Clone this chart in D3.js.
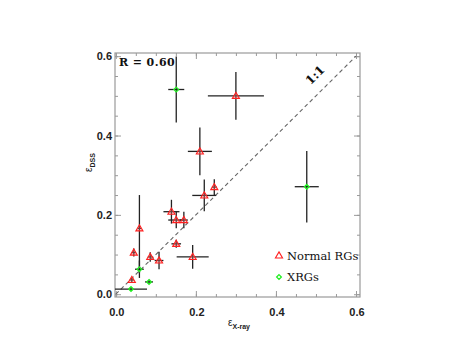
<!DOCTYPE html>
<html>
<head>
<meta charset="utf-8">
<script src="https://cdn.jsdelivr.net/npm/d3@7"></script>
<style>
  body { margin: 0; background: #fff; }
  svg { display: block; }
</style>
</head>
<body>
<div id="chart"></div>
<script>
// Normal RGs
const normX    = [0.30, 0.21, 0.246, 0.221, 0.139, 0.151, 0.17, 0.151, 0.192, 0.108, 0.086, 0.059, 0.045, 0.04];
const normY    = [0.50, 0.36, 0.27, 0.249, 0.208, 0.187, 0.187, 0.127, 0.094, 0.085, 0.094, 0.166, 0.105, 0.036];
const normXErr = [0.07, 0.03, 0.006, 0.03, 0.02, 0.02, 0.01, 0.012, 0.04, 0.011, 0.006, 0.004, 0.005, 0.005];
const normYLo  = [0.06, 0.06, 0.02, 0.04, 0.03, 0.021, 0.021, 0.01, 0.03, 0.022, 0.012, 0.113, 0.01, 0.006];
const normYHi  = [0.06, 0.06, 0.02, 0.04, 0.03, 0.021, 0.021, 0.01, 0.03, 0.022, 0.012, 0.084, 0.01, 0.006];
// XRGs
const xrgX    = [0.151, 0.477, 0.059, 0.083, 0.038];
const xrgY    = [0.516, 0.271, 0.063, 0.031, 0.013];
const xrgXErr = [0.02, 0.03, 0.011, 0.01, 0.04];
const xrgYLo  = [0.083, 0.09, 0.022, 0.004, 0.004];
const xrgYHi  = [0.083, 0.09, 0.022, 0.004, 0.004];

const xTicks = [0.0, 0.2, 0.4, 0.6];
const yTicks = [0.0, 0.2, 0.4, 0.6];
const minorStep = 0.05;

const W = 475, H = 350;
const frame = { left: 115, right: 360, top: 53, bottom: 297 };
const serif = 'DejaVu Serif, Liberation Serif, serif';

const svg = d3.select('#chart').append('svg')
  .attr('width', W).attr('height', H)
  .attr('font-family', 'Liberation Sans, Arial, sans-serif');

const x = d3.scaleLinear().domain([-0.002, 0.61]).range([frame.left, frame.right]);
const y = d3.scaleLinear().domain([-0.007, 0.608]).range([frame.bottom, frame.top]);

const axisColor = '#9a9a9a';
const minor = d3.range(0, 0.6001, minorStep);

// axes with IDL-style ticks on all four sides
function tickAxis(axisFn, scale, values, size) {
  return axisFn(scale).tickValues(values).tickSize(size).tickFormat('');
}
const gB = svg.append('g').attr('transform', `translate(0,${frame.bottom})`);
gB.call(tickAxis(d3.axisTop, x, minor, 3));
gB.append('g').call(tickAxis(d3.axisTop, x, xTicks, 6));
const gT = svg.append('g').attr('transform', `translate(0,${frame.top})`);
gT.call(tickAxis(d3.axisBottom, x, minor, 3));
gT.append('g').call(tickAxis(d3.axisBottom, x, xTicks, 6));
const gL = svg.append('g').attr('transform', `translate(${frame.left},0)`);
gL.call(tickAxis(d3.axisRight, y, minor, 3));
gL.append('g').call(tickAxis(d3.axisRight, y, yTicks, 6));
const gR = svg.append('g').attr('transform', `translate(${frame.right},0)`);
gR.call(tickAxis(d3.axisLeft, y, minor, 3));
gR.append('g').call(tickAxis(d3.axisLeft, y, yTicks, 6));
svg.selectAll('.domain').remove();
svg.selectAll('.tick line').attr('stroke', axisColor);

svg.append('rect')
  .attr('x', frame.left).attr('y', frame.top)
  .attr('width', frame.right - frame.left).attr('height', frame.bottom - frame.top)
  .attr('fill', 'none').attr('stroke', axisColor).attr('stroke-width', 1.2);

// tick labels
svg.append('g').selectAll('text').data(xTicks).enter().append('text')
  .attr('x', d => x(d) + 1).attr('y', frame.bottom + 19)
  .attr('text-anchor', 'middle').attr('font-size', 11).attr('font-weight', 'bold')
  .attr('fill', '#222').text(d => d3.format('.1f')(d));
svg.append('g').selectAll('text').data(yTicks).enter().append('text')
  .attr('x', frame.left - 3).attr('y', d => y(d) + 4)
  .attr('text-anchor', 'end').attr('font-size', 11).attr('font-weight', 'bold')
  .attr('fill', '#222').text(d => d3.format('.1f')(d));

// axis titles
const xl = svg.append('text').attr('x', 228).attr('y', 326)
  .attr('font-size', 10).attr('fill', '#222');
xl.append('tspan').text('ε');
xl.append('tspan').attr('dy', 3).attr('font-size', 7).attr('font-weight', 'bold').text('X-ray');
const yl = svg.append('text').attr('transform', 'translate(92,172) rotate(-90)')
  .attr('font-size', 10).attr('fill', '#222');
yl.append('tspan').text('ε');
yl.append('tspan').attr('dy', 3).attr('font-size', 7).attr('font-weight', 'bold').text('DSS');

// 1:1 line
svg.append('line')
  .attr('x1', x(0)).attr('y1', y(0)).attr('x2', x(0.6)).attr('y2', y(0.6))
  .attr('stroke', '#666').attr('stroke-width', 1.1).attr('stroke-dasharray', '4,3');
svg.append('text')
  .attr('transform', `translate(${x(0.505)},${y(0.545)}) rotate(-45)`)
  .attr('text-anchor', 'middle')
  .attr('font-family', serif)
  .attr('font-size', 12).attr('font-weight', 'bold').attr('fill', '#111').text('1:1');

svg.append('text').attr('x', frame.left + 4).attr('y', frame.top + 13)
  .attr('font-family', serif)
  .attr('font-size', 11).attr('font-weight', 'bold').attr('fill', '#111')
  .attr('letter-spacing', 0.4)
  .text('R = 0.60');

// build point records
const normPts = normX.map((v, i) => ({ x: v, y: normY[i], xe: normXErr[i], lo: normYLo[i], hi: normYHi[i] }));
const xrgPts = xrgX.map((v, i) => ({ x: v, y: xrgY[i], xe: xrgXErr[i], lo: xrgYLo[i], hi: xrgYHi[i] }));
const allPts = normPts.concat(xrgPts);

const errG = svg.append('g').attr('stroke', '#222').attr('stroke-width', 1.3);
errG.selectAll('line.h').data(allPts).enter().append('line').attr('class', 'h')
  .attr('x1', d => x(d.x - d.xe)).attr('x2', d => x(d.x + d.xe))
  .attr('y1', d => y(d.y)).attr('y2', d => y(d.y));
errG.selectAll('line.v').data(allPts).enter().append('line').attr('class', 'v')
  .attr('x1', d => x(d.x)).attr('x2', d => x(d.x))
  .attr('y1', d => y(d.y - d.lo)).attr('y2', d => y(d.y + d.hi));

const tri = d3.symbol().type(d3.symbolTriangle).size(22);
const dia = d3.symbol().type(d3.symbolDiamond2 || d3.symbolDiamond).size(14);
svg.append('g').selectAll('path').data(normPts).enter().append('path')
  .attr('d', tri).attr('transform', d => `translate(${x(d.x)},${y(d.y) + 0.5})`)
  .attr('fill', 'rgba(255,120,120,0.35)').attr('stroke', '#ff2020').attr('stroke-width', 1.1);
svg.append('g').selectAll('path').data(xrgPts).enter().append('path')
  .attr('d', dia).attr('transform', d => `translate(${x(d.x)},${y(d.y)})`)
  .attr('fill', 'none').attr('stroke', '#22ee22').attr('stroke-width', 1.3);

// legend
const legend = svg.append('g').attr('font-family', serif)
  .attr('font-size', 11.5).attr('fill', '#111');
legend.append('path').attr('d', tri).attr('transform', 'translate(279,256)')
  .attr('fill', 'none').attr('stroke', '#ff2020').attr('stroke-width', 1.1);
legend.append('text').attr('x', 287).attr('y', 260).text('Normal RGs');
legend.append('path').attr('d', dia).attr('transform', 'translate(279,277)')
  .attr('fill', 'none').attr('stroke', '#22ee22').attr('stroke-width', 1.3);
legend.append('text').attr('x', 287).attr('y', 281).text('XRGs');
</script>
</body>
</html>
